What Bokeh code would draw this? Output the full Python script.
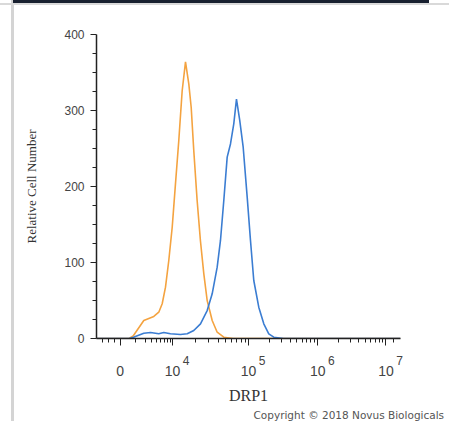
import math
from bokeh.plotting import figure
from bokeh.models import FixedTicker, LinearAxis, Range1d, Title
from bokeh.embed import file_html
from bokeh.resources import INLINE

# x axis is in display channels (biexponential display, 0..1024)
x_tick_channels = [80, 256, 512, 745, 975]
x_tick_mantissa = ["0", "10", "10", "10", "10"]
x_tick_exponent = ["", "4", "5", "6", "7"]
x_neg_minor = [20, 40, 60]

y_ticks = [0, 100, 200, 300, 400]

# orange histogram (control)
orange_x = [0, 110, 124.6, 159.3, 193, 209.8, 221.3, 232.4, 243.5, 255, 266, 277.2,
            288.6, 299.8, 310.9, 319, 327.7, 339, 350, 361.5, 372.8, 389.7, 406.5,
            428.8, 460, 1024]
orange_y = [0, 0, 3.9, 23.7, 29, 34.6, 45.7, 67.5, 102.6, 146.4, 203.5, 260.5,
            326, 364, 335, 304, 247, 181.6, 129, 85.1, 50, 23.7, 8.3,
            1.7, 0, 0]

# blue histogram (DRP1)
blue_x = [0, 110, 124.6, 159.3, 181.9, 209.8, 226.7, 249.2, 282.9, 305.5, 327.7,
          350.3, 372.8, 389.7, 406.5, 417.6, 428.8, 440.2, 451.3, 462.4, 471.5,
          482.6, 494.1, 507.6, 518.7, 529.8, 546.6, 563.5, 580.3, 597.2, 630, 1024]
blue_y = [0, 0, 1.7, 7, 7.9, 6.2, 7.9, 6.2, 5.3, 6.2, 10.5,
          19.3, 36.8, 58.8, 93.8, 129, 181.6, 238.6, 256, 282.5, 315,
          286.8, 251.7, 186, 129, 76.3, 41.2, 19.3, 6.2, 1.7, 0, 0]

X0, X1 = 0, 1024
EXP_SHIFT = 46  # exponent sits to the right of its "10"

p = figure(width=449, height=421, output_backend="svg", toolbar_location=None,
           x_range=Range1d(X0, X1), y_range=Range1d(0, 400),
           x_axis_location=None,
           min_border_left=96, min_border_right=49, min_border_top=34,
           min_border_bottom=83)
p.outline_line_color = None
p.grid.visible = False
p.background_fill_color = "white"
p.border_fill_alpha = 0
p.styles = {
    "background": "linear-gradient(#18202f, #18202f) 13px 0px / 416px 3px no-repeat, "
                  "linear-gradient(#d9d9d9, #d9d9d9) 0px 3px / 449px 2px no-repeat, "
                  "linear-gradient(#d4d4d4, #d4d4d4) 11px 0px / 3px 421px no-repeat, "
                  "#ffffff"
}

p.line(orange_x, orange_y, line_color="#F4A340", line_width=1.6)
p.line(blue_x, blue_y, line_color="#3B7DD2", line_width=1.6)

# x minor ticks: log pattern within each display segment
x_minor = list(x_neg_minor)
for a, b in zip(x_tick_channels[:-1], x_tick_channels[1:]):
    for k in range(2, 10):
        x_minor.append(a + math.log10(k) * (b - a))
x_minor.append(1000)

# axis A: line and ticks
xa = LinearAxis(ticker=FixedTicker(ticks=x_tick_channels, minor_ticks=x_minor))
xa.major_label_overrides = {t: "" for t in x_tick_channels}
xa.major_label_text_font_size = "1px"
xa.major_label_standoff = 0
xa.major_tick_in = 0
xa.major_tick_out = 7
xa.minor_tick_in = 0
xa.minor_tick_out = 4
xa.axis_line_color = "#222222"
xa.axis_line_width = 1.5
xa.major_tick_line_color = "#222222"
xa.minor_tick_line_color = "#222222"
p.add_layout(xa, "below")

# axis B: decade exponents (shifted right of the mantissa)
p.extra_x_ranges = {"exp": Range1d(X0 - EXP_SHIFT, X1 - EXP_SHIFT)}
xb = LinearAxis(x_range_name="exp",
                ticker=FixedTicker(ticks=[t for t, e in zip(x_tick_channels, x_tick_exponent) if e],
                                   minor_ticks=[]))
xb.major_label_overrides = {t: e for t, e in zip(x_tick_channels, x_tick_exponent) if e}
xb.major_label_text_font = "Liberation Sans"
xb.major_label_text_font_size = "12px"
xb.major_label_text_color = "#444444"
xb.major_label_standoff = 4
xb.axis_line_color = None
xb.major_tick_line_color = None
xb.minor_tick_line_color = None
p.add_layout(xb, "below")

# axis C: mantissas and axis title
xc = LinearAxis(ticker=FixedTicker(ticks=x_tick_channels, minor_ticks=[]))
xc.major_label_overrides = {t: m for t, m in zip(x_tick_channels, x_tick_mantissa)}
xc.major_label_text_font = "Liberation Sans"
xc.major_label_text_font_size = "14px"
xc.major_label_text_color = "#444444"
xc.major_label_standoff = -8
xc.axis_line_color = None
xc.major_tick_line_color = None
xc.minor_tick_line_color = None
xc.axis_label = "DRP1"
xc.axis_label_text_font = "Liberation Serif"
xc.axis_label_text_font_style = "normal"
xc.axis_label_text_font_size = "16px"
xc.axis_label_text_color = "#333333"
xc.axis_label_standoff = 8
p.add_layout(xc, "below")

p.add_layout(Title(text="Copyright © 2018 Novus Biologicals", align="left",
                   offset=157, standoff=1, text_font="DejaVu Sans",
                   text_font_size="10.5px", text_font_style="normal",
                   text_color="#555555"), "below")

y_minor = [v for v in range(0, 401, 25) if v % 100 != 0]
ya = p.yaxis[0]
ya.ticker = FixedTicker(ticks=y_ticks, minor_ticks=y_minor)
ya.axis_label = "Relative Cell Number"
ya.axis_label_text_font = "Liberation Serif"
ya.axis_label_text_font_style = "normal"
ya.axis_label_text_font_size = "13px"
ya.axis_label_text_color = "#333333"
ya.axis_label_standoff = 22
ya.major_label_text_font = "Liberation Sans"
ya.major_label_text_font_size = "12px"
ya.major_label_text_color = "#444444"
ya.major_label_standoff = 6
ya.major_tick_in = 0
ya.major_tick_out = 6
ya.minor_tick_in = 0
ya.minor_tick_out = 4
ya.axis_line_color = "#222222"
ya.axis_line_width = 1.5
ya.major_tick_line_color = "#222222"
ya.minor_tick_line_color = "#222222"

open("out.html", "w").write(file_html(p, INLINE))
